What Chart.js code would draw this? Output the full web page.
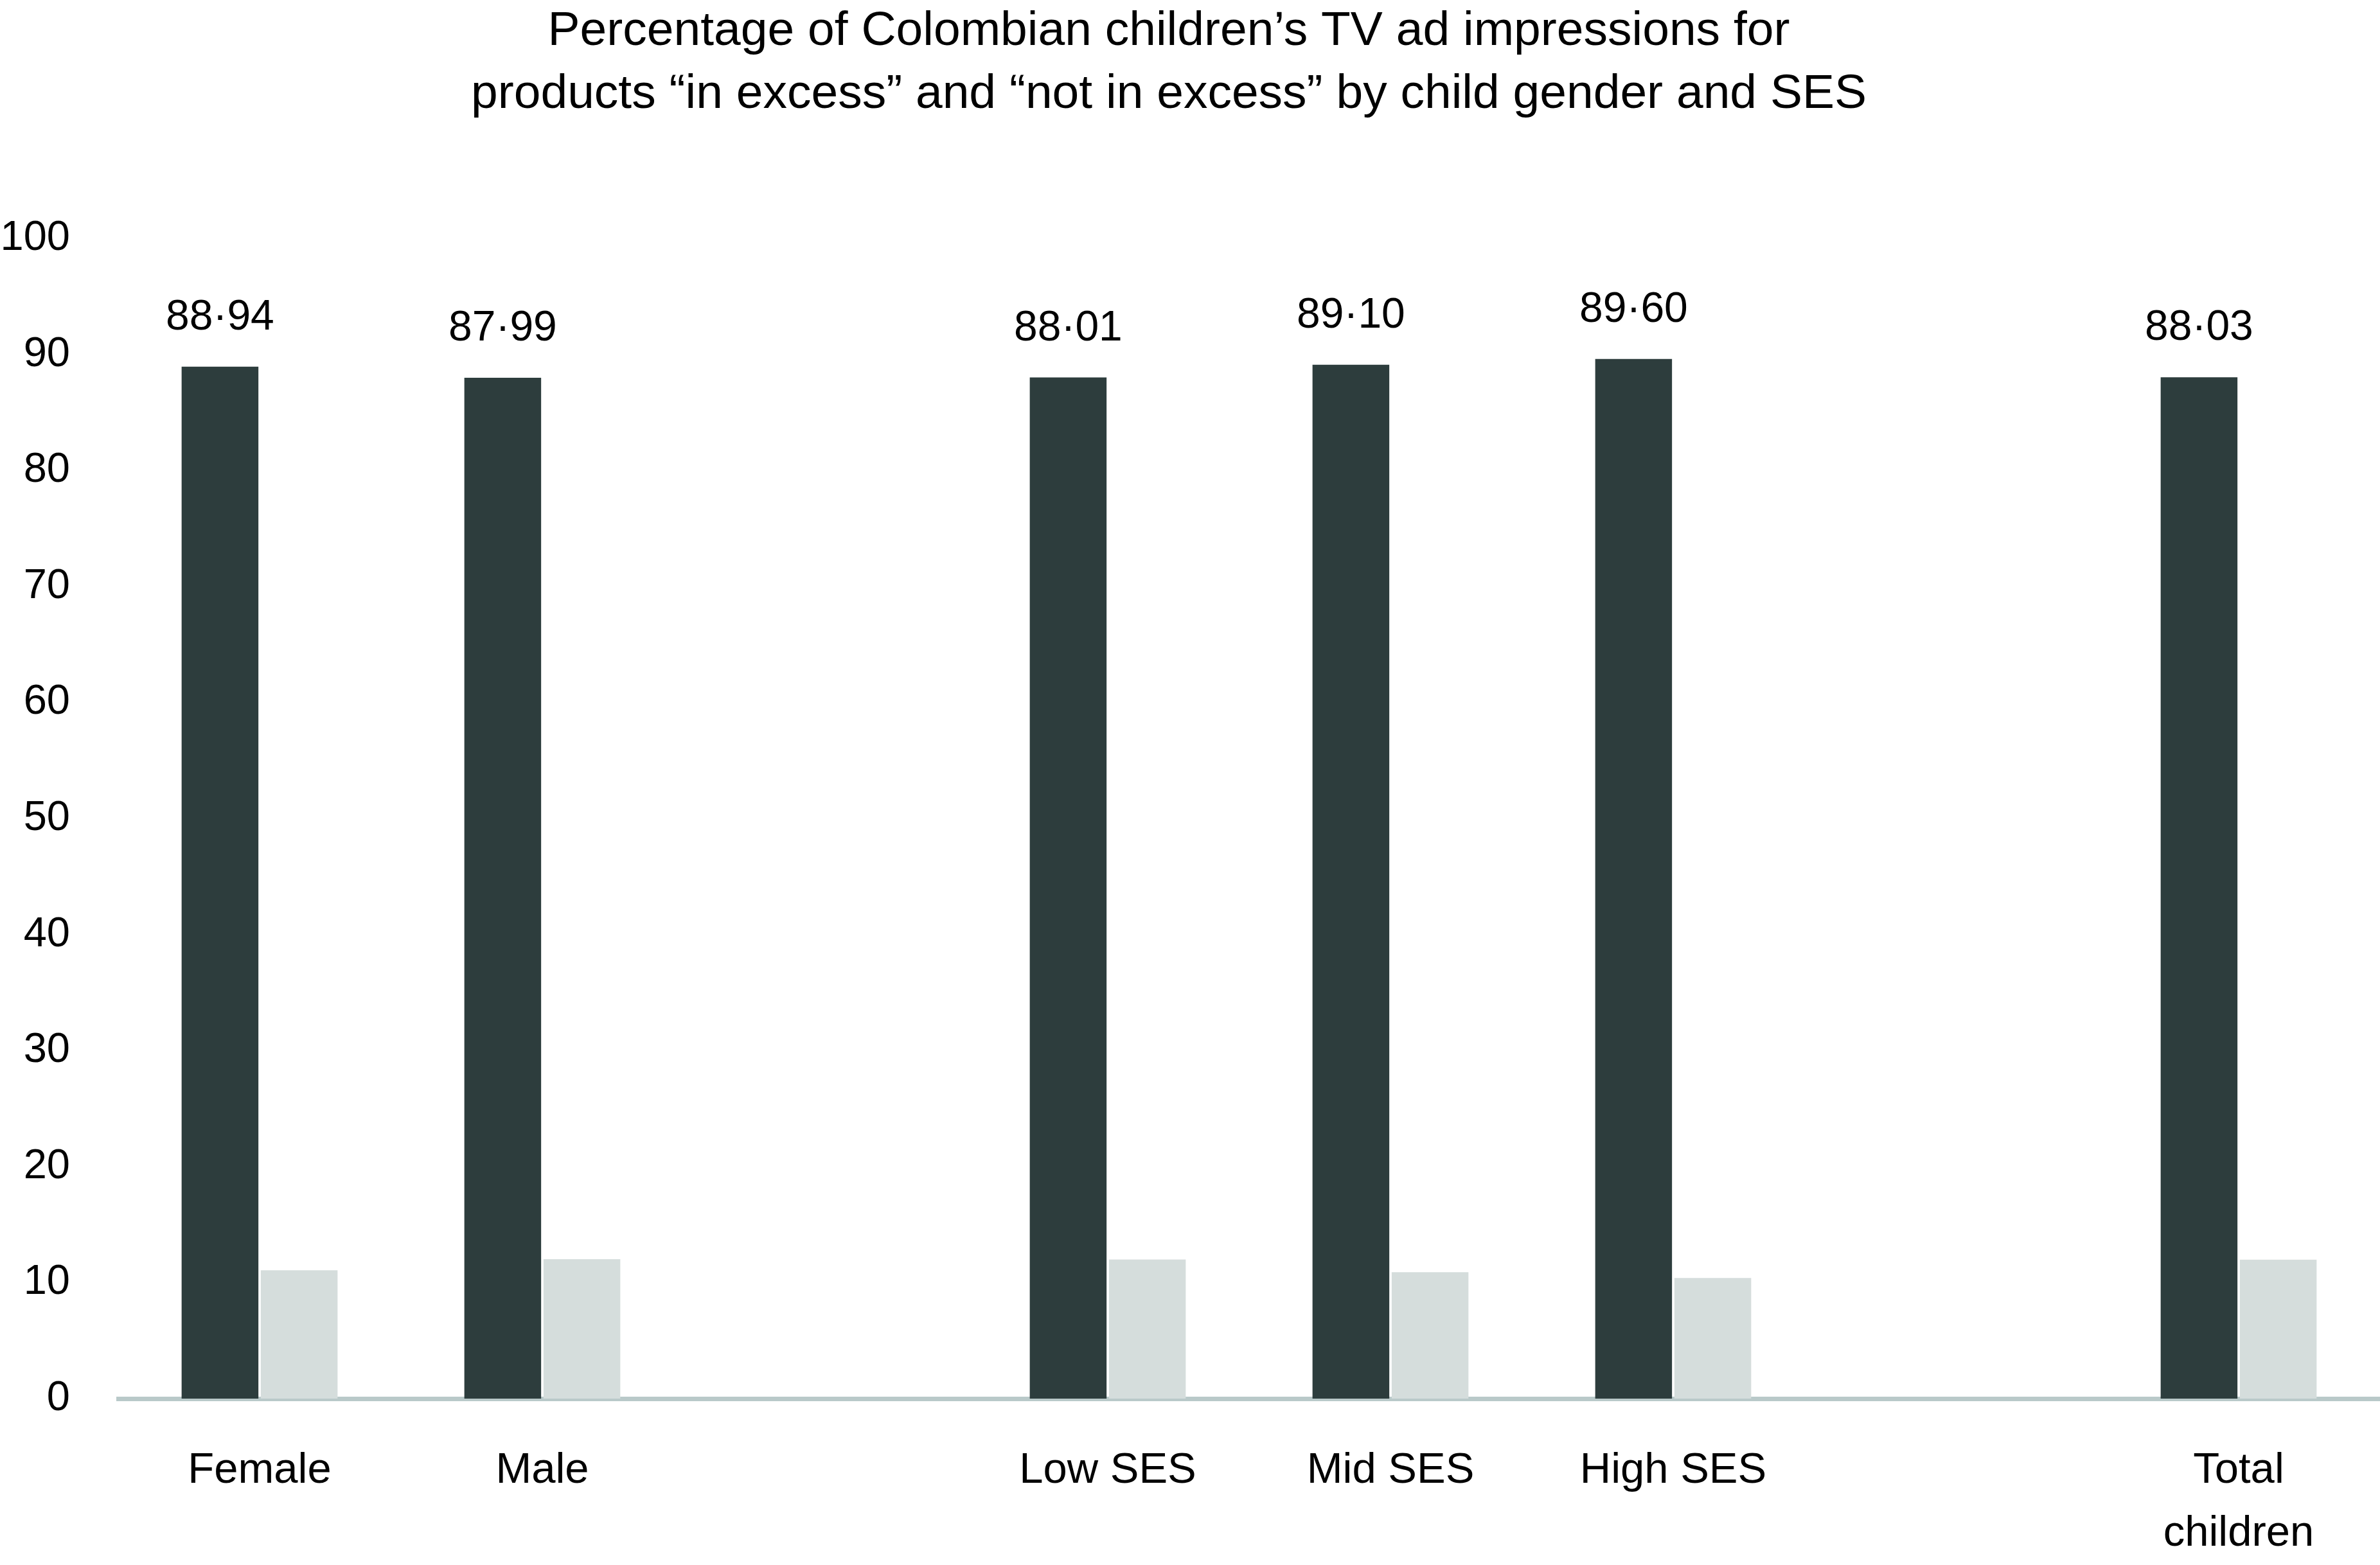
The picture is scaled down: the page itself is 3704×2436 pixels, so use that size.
<!DOCTYPE html>
<html>
<head>
<meta charset="utf-8">
<script src="https://cdn.jsdelivr.net/npm/chart.js@4.4.1/dist/chart.umd.min.js"></script>
<style>
  html, body { margin: 0; padding: 0; background: #ffffff; }
  #wrap { width: 3704px; height: 2436px; position: relative; }
</style>
</head>
<body>
<div id="wrap"><canvas id="barChart"></canvas></div>
<script>
// Categories (empty strings leave the gaps between groups)
const categories = ['Female', 'Male', '', 'Low SES', 'Mid SES', 'High SES', '', ['Total', 'children']];
// Percentage of impressions for products "in excess"
const inExcess = [88.94, 87.99, null, 88.01, 89.10, 89.60, null, 88.03];
// Percentage for products "not in excess"
const notInExcess = [11.06, 12.01, null, 11.99, 10.90, 10.40, null, 11.97];
const yTicks = [0, 10, 20, 30, 40, 50, 60, 70, 80, 90, 100];

const titleLines = [
    'Percentage of Colombian children\u2019s TV ad impressions for',
    'products \u201cin excess\u201d and \u201cnot in excess\u201d by child gender and SES'
];

const FONT = "'Liberation Sans', Arial, Helvetica, sans-serif";

/**
 * Draw the value labels above the dark bars (decimal shown with a middle dot)
 */
const valueLabels = {
    id: 'valueLabels',
    beforeDraw(chart) {
        // title sits a little left of the page centre in the original
        if (chart.titleBlock) {
            chart.titleBlock.right = chart.width - 66;
        }
    },
    afterDatasetsDraw(chart) {
        const ctx = chart.ctx;
        const meta = chart.getDatasetMeta(0);
        ctx.save();
        ctx.font = '66px ' + FONT;
        ctx.fillStyle = '#000000';
        ctx.textAlign = 'center';
        ctx.textBaseline = 'middle';
        meta.data.forEach(function(bar, i) {
            const v = inExcess[i];
            if (v === null) return;
            ctx.fillText(v.toFixed(2).replace('.', '\u00b7'), bar.x, bar.y - 76);
        });
        ctx.restore();
    }
};

document.addEventListener('DOMContentLoaded', function() {
    const ctx = document.getElementById('barChart');
    new Chart(ctx, {
        type: 'bar',
        data: {
            labels: categories,
            datasets: [{
                label: 'In excess',
                data: inExcess,
                backgroundColor: '#2d3d3d',
                categoryPercentage: 0.56,
                barPercentage: 0.97
            }, {
                label: 'Not in excess',
                data: notInExcess,
                backgroundColor: '#d5dddc',
                categoryPercentage: 0.56,
                barPercentage: 0.97
            }]
        },
        options: {
            responsive: true,
            maintainAspectRatio: false,
            animation: false,
            devicePixelRatio: 1,
            layout: { padding: { top: 0, right: 0, bottom: 0, left: 0 } },
            scales: {
                x: {
                    afterFit: function(scale) { scale.height = 259; },
                    grid: { display: false, drawTicks: false },
                    border: { display: true, color: '#b9c9c9', width: 7 },
                    ticks: {
                        color: '#000000',
                        padding: 64,
                        maxRotation: 0,
                        autoSkip: false,
                        font: { family: FONT, size: 67, lineHeight: '98px' }
                    }
                },
                y: {
                    min: 0,
                    max: 100,
                    afterFit: function(scale) { scale.width = 184; },
                    afterBuildTicks: function(scale) {
                        scale.ticks = yTicks.map(function(v) { return { value: v }; });
                    },
                    grid: { display: false, drawTicks: false },
                    border: { display: false },
                    ticks: {
                        color: '#000000',
                        padding: 75,
                        font: { family: FONT, size: 65 }
                    }
                }
            },
            plugins: {
                legend: { display: false },
                tooltip: { enabled: false },
                title: {
                    display: true,
                    text: titleLines,
                    color: '#000000',
                    font: { family: FONT, size: 75, weight: 'normal', lineHeight: '98px' },
                    padding: { top: 0, bottom: 175 }
                }
            }
        },
        plugins: [valueLabels]
    });
});
</script>
</body>
</html>
